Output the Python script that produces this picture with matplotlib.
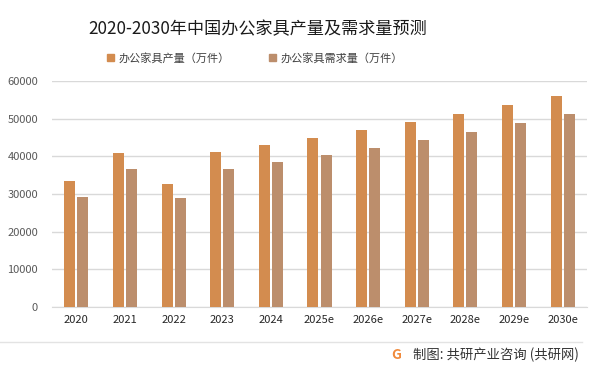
import matplotlib.pyplot as plt
from matplotlib.patches import Patch
import numpy as np

plt.rcParams['font.family'] = ['Noto Sans CJK SC', 'DejaVu Sans']

years = ['2020', '2021', '2022', '2023', '2024', '2025e', '2026e', '2027e', '2028e', '2029e', '2030e']
production = [33450, 40900, 32700, 41200, 43000, 44900, 47000, 49100, 51200, 53600, 56000]
demand = [29200, 36600, 28900, 36600, 38500, 40400, 42200, 44300, 46500, 48800, 51200]

c_prod = '#D38C4F'
c_dem = '#BC8E6C'

fig = plt.figure(figsize=(6, 3.75), dpi=100)
ax = fig.add_axes([52 / 600, 1 - 307 / 375, 535 / 600, 226 / 375])

x = np.arange(len(years))
w = 0.226
ax.bar(x - 0.134, production, w, color=c_prod, zorder=3)
ax.bar(x + 0.134, demand, w, color=c_dem, zorder=3)

ax.set_xlim(-0.5, len(years) - 0.5)
ax.set_ylim(0, 60000)
ax.set_yticks(range(0, 60001, 10000))
ax.grid(axis='y', color='#D9D9D9', linewidth=1, zorder=0)
for s in ['top', 'right', 'left']:
    ax.spines[s].set_visible(False)
ax.spines['bottom'].set_color('#D9D9D9')
ax.tick_params(length=0)
ax.tick_params(axis='y', labelsize=8, labelcolor='#595959', pad=10)
ax.tick_params(axis='x', labelsize=8, labelcolor='#262626', pad=6)
ax.set_xticks(x)
ax.set_xticklabels(years)

fig.text(258 / 600, 1 - 29 / 375, '2020-2030年中国办公家具产量及需求量预测',
         ha='center', va='center', fontsize=12.3, color='#1A1A1A')

handles = [Patch(color=c_prod), Patch(color=c_dem)]
fig.legend(handles, ['办公家具产量（万件）', '办公家具需求量（万件）'],
           loc='center', bbox_to_anchor=(255 / 600, 1 - 58 / 375), ncol=2,
           frameon=False, fontsize=8, handlelength=0.6, handleheight=0.6,
           handletextpad=0.4, columnspacing=3.6, labelcolor='#404040')

# footer
fig.add_artist(plt.Line2D([0, 582 / 600], [1 - 342 / 375] * 2, color='#E3E3E3', linewidth=1))
fig.text(396 / 600, 1 - 355 / 375, 'G', ha='center', va='center', fontsize=10,
         fontweight='bold', color='#F08A3C')
fig.text(413 / 600, 1 - 355 / 375, '制图: 共研产业咨询 (共研网)', ha='left', va='center',
         fontsize=9.6, color='#333333')

fig.savefig('out.png', dpi=100)
